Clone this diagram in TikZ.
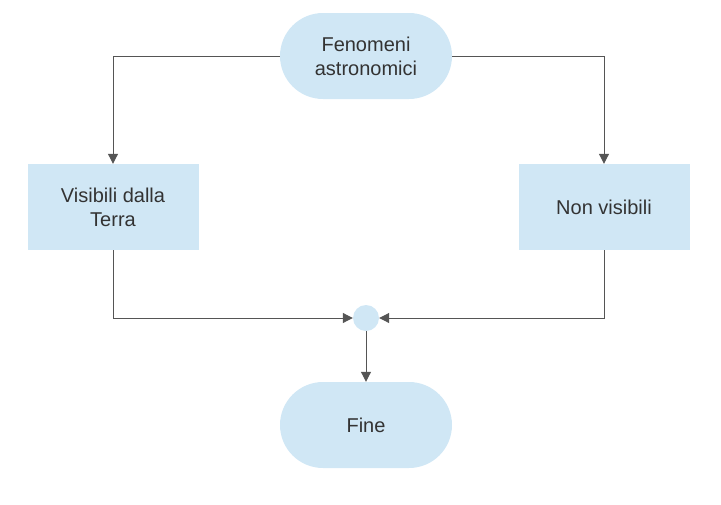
\documentclass[tikz,border=0pt]{standalone}
\usepackage{fontspec}
\setsansfont{Liberation Sans}
\usetikzlibrary{arrows.meta}
\definecolor{boxfill}{HTML}{D0E7F5}
\definecolor{linegray}{HTML}{555555}
\definecolor{textgray}{HTML}{333333}

\begin{document}
\begin{tikzpicture}[x=1pt,y=-1pt,font=\sffamily\fontsize{20}{24}\selectfont,
        terminal/.style={fill=boxfill,text=textgray,align=center,minimum width=172pt,minimum height=86pt,rounded corners=43pt},
        box/.style={fill=boxfill,text=textgray,align=center,minimum width=171pt,minimum height=86pt},
        joint/.style={circle,fill=boxfill,minimum size=26pt,inner sep=0pt},
        arrow/.style={draw=linegray,line width=1pt,-{Triangle[length=10pt,width=10pt]}}]
        \useasboundingbox (0,0) rectangle (721,504);

        % Start and end
        \node[terminal] (fen) at (366,56) {Fenomeni\\astronomici};
        \node[terminal] (fine) at (366,425) {Fine};

        % Two branches
        \node[box] (vis) at (113,207) {Visibili dalla\\Terra};
        \node[box] (non) at (604,207) {Non visibili};

        % Junction
        \node[joint] (join) at (366,318) {};

        % Connectors
        \draw[arrow] (fen.west) -| (vis.north);
        \draw[arrow] (fen.east) -| (non.north);
        \draw[arrow] (vis.south) |- (join.west);
        \draw[arrow] (non.south) |- (join.east);
        \draw[arrow] (join.south) -- (fine.north);
    \end{tikzpicture}
\end{document}
